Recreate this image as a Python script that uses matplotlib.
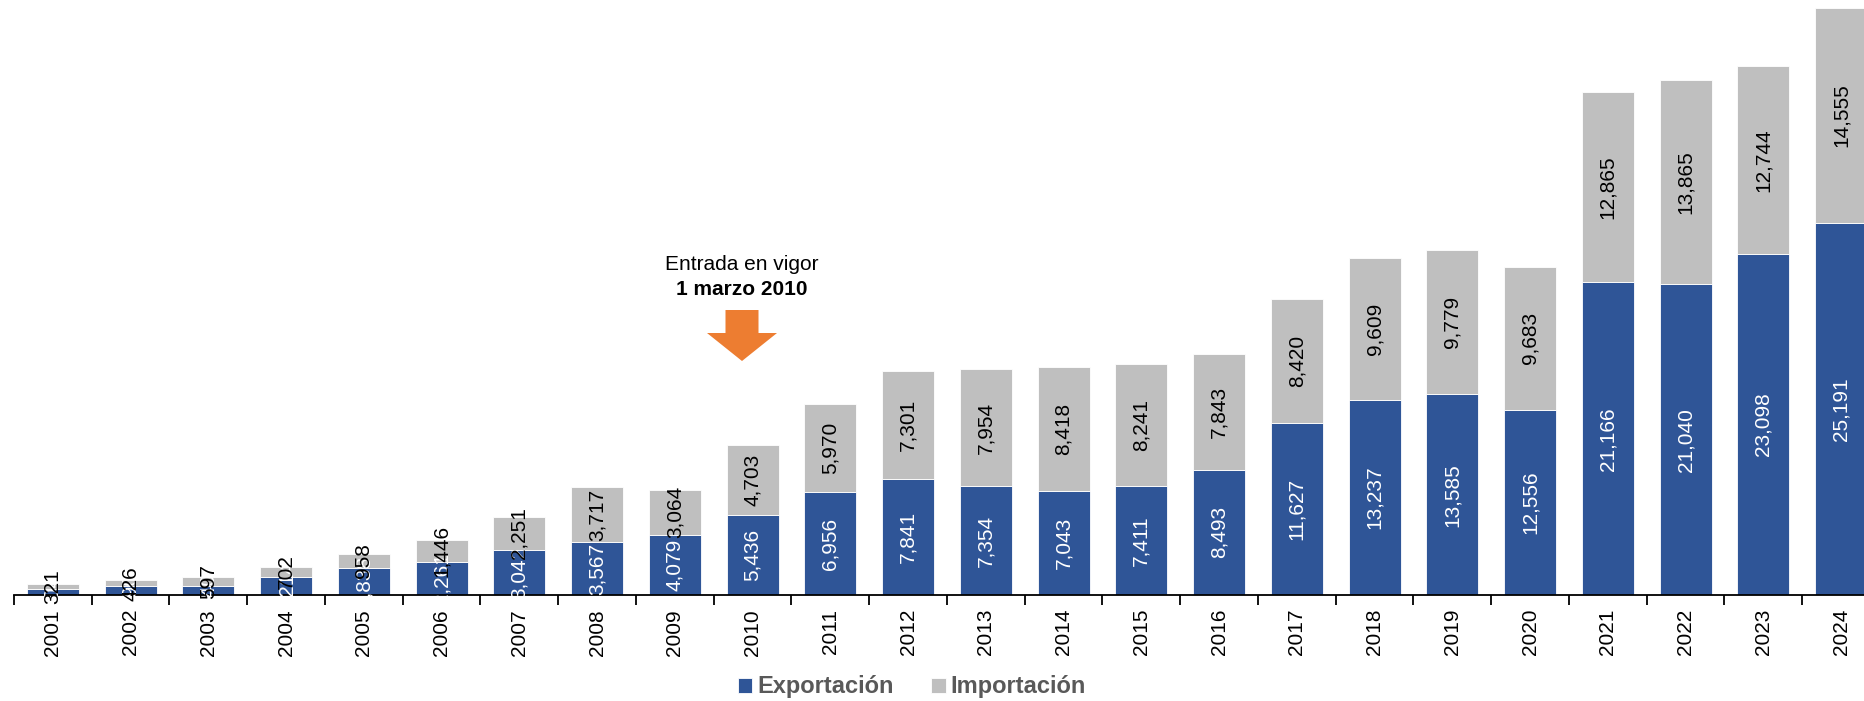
import matplotlib
matplotlib.use("Agg")
import matplotlib.pyplot as plt
import matplotlib.patches as mpatches
import numpy as np

plt.rcParams["font.family"] = ["Liberation Sans", "DejaVu Sans"]

years = [str(y) for y in range(2001, 2025)]
exportacion = [404, 590, 640, 1214, 1838, 2261, 3042, 3567, 4079, 5436, 6956, 7841,
               7354, 7043, 7411, 8493, 11627, 13237, 13585, 12556, 21166, 21040,
               23098, 25191]
importacion = [321, 426, 597, 702, 958, 1446, 2251, 3717, 3064, 4703, 5970, 7301,
               7954, 8418, 8241, 7843, 8420, 9609, 9779, 9683, 12865, 13865,
               12744, 14555]

BLUE = "#2F5597"
GREY = "#BFBFBF"
W, H = 1865, 701

fig = plt.figure(figsize=(W / 100, H / 100), dpi=100)
ax = fig.add_axes([14 / W, (H - 595) / H, 1866 / W, 595 / H])

x = np.arange(len(years))
exp = np.array(exportacion)
imp = np.array(importacion)
b1 = ax.bar(x, exp, width=0.67, color=BLUE, edgecolor="white", linewidth=0.6,
            label="Exportación")
b2 = ax.bar(x, imp, width=0.67, bottom=exp, color=GREY, edgecolor="white",
            linewidth=0.6, label="Importación")

for i in range(len(years)):
    ax.text(x[i], exp[i] / 2, f"{exp[i]:,}", rotation=90, ha="center", va="center",
            color="white", fontsize=15)
    ax.text(x[i], exp[i] + imp[i] / 2, f"{imp[i]:,}", rotation=90, ha="center",
            va="center", color="black", fontsize=15)

ax.set_xlim(-0.5, len(years) - 0.5)
ax.set_ylim(0, 40290)
for s in ["top", "right", "left"]:
    ax.spines[s].set_visible(False)
ax.spines["bottom"].set_linewidth(1.3)
ax.set_yticks([])
ax.set_xticks(np.arange(-0.5, len(years), 1.0))
ax.set_xticklabels([])
ax.tick_params(axis="x", which="major", direction="out", length=7, width=1.3)
ax.set_xticks(x, minor=True)
ax.set_xticklabels(years, minor=True, rotation=90, fontsize=15)
ax.tick_params(axis="x", which="minor", length=0, pad=10)

# annotation: entry into force
ax.text(8.86, 1 - 264 / 595, "Entrada en vigor", transform=ax.get_xaxis_transform(),
        ha="center", va="center", fontsize=15)
ax.text(8.86, 1 - 289 / 595, "1 marzo 2010", transform=ax.get_xaxis_transform(),
        ha="center", va="center", fontsize=15, fontweight="bold")

cx = 742
pts = [(cx - 16.5, 310), (cx + 16.5, 310), (cx + 16.5, 333), (cx + 35, 333),
       (cx, 361), (cx - 35, 333), (cx - 16.5, 333)]
arrow = mpatches.Polygon([(px / W, 1 - py / H) for px, py in pts], closed=True,
                         transform=fig.transFigure, facecolor="#ED7D31",
                         edgecolor="none")
fig.patches.append(arrow)

leg = fig.legend(handles=[b1, b2], loc="center", bbox_to_anchor=(912 / W, 1 - 687 / H),
                 ncol=2, frameon=False, handlelength=0.6, handleheight=0.6,
                 handletextpad=0.2, columnspacing=1.6,
                 prop={"size": 17, "weight": "bold"})
for t in leg.get_texts():
    t.set_color("#595959")

fig.savefig("out.png", dpi=100)
